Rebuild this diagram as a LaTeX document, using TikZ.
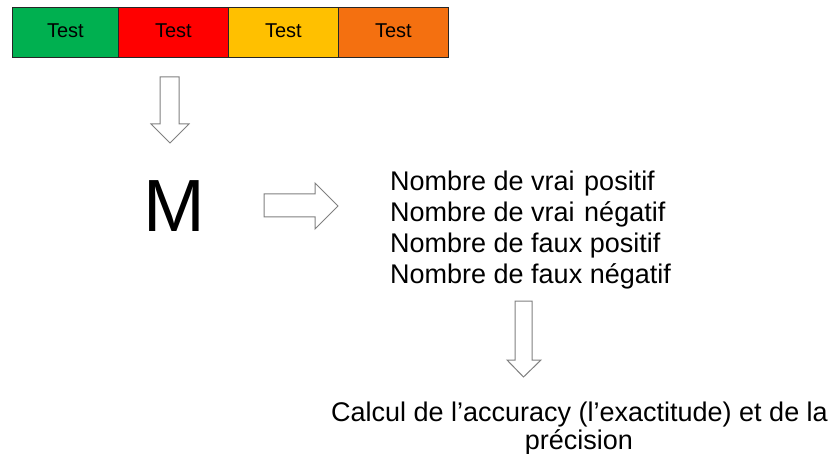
\documentclass[tikz,border=0pt]{standalone}
\usepackage{fontspec}
\setmainfont{Liberation Sans}
\definecolor{cgreen}{HTML}{00B050}
\definecolor{cred}{HTML}{FF0000}
\definecolor{cyellow}{HTML}{FFC000}
\definecolor{corange}{HTML}{F47010}
\definecolor{arrowline}{HTML}{808080}
\tikzset{
  cell/.style={draw=black!85, line width=0.8pt, minimum width=#1, minimum height=50pt, inner sep=0pt, text depth=4pt, anchor=north west, font=\fontsize{20}{24}\selectfont},
  blockarrow/.style={draw=arrowline, fill=white, line width=1pt, line join=miter},
  txt/.style={inner sep=0pt, font=\fontsize{27}{32}\selectfont},
}
\begin{document}
\begin{tikzpicture}[x=1pt,y=-1pt]
\useasboundingbox (0,0) rectangle (829,454);
% test bar
\node[cell=106pt, fill=cgreen] (t1) at (12,7) {Test};
\node[cell=110pt, fill=cred] (t2) at (118,7) {Test};
\node[cell=110pt, fill=cyellow] (t3) at (228,7) {Test};
\node[cell=110pt, fill=corange] (t4) at (338,7) {Test};
% arrow down 1
\draw[blockarrow] (160,77) -- (179,77) -- (179,124) -- (189,124) -- (170,143) -- (151,124) -- (160,124) -- cycle;
% M
\node[inner sep=0pt, anchor=base, font=\fontsize{74}{80}\selectfont] (m) at (174,232) {M};
% arrow right
\draw[blockarrow] (264,194) -- (315,194) -- (315,183) -- (338,206) -- (315,229) -- (315,217) -- (264,217) -- cycle;
% text block
\node[txt, anchor=base west] (l1) at (390,191) {Nombre de vrai\hspace{2pt} positif};
\node[txt, anchor=base west] (l2) at (390,222) {Nombre de vrai\hspace{2pt} négatif};
\node[txt, anchor=base west] (l3) at (390,252.5) {Nombre de faux positif};
\node[txt, anchor=base west] (l4) at (390,283) {Nombre de faux négatif};
% arrow down 2
\draw[blockarrow] (515,301) -- (532,301) -- (532,360) -- (541,360) -- (523.5,377) -- (507,360) -- (515,360) -- cycle;
% bottom text
\node[txt, anchor=base] (b1) at (579.5,421.5) {Calcul de l’accuracy (l’exactitude) et de la};
\node[txt, anchor=base] (b2) at (579,449) {précision};
\end{tikzpicture}
\end{document}
